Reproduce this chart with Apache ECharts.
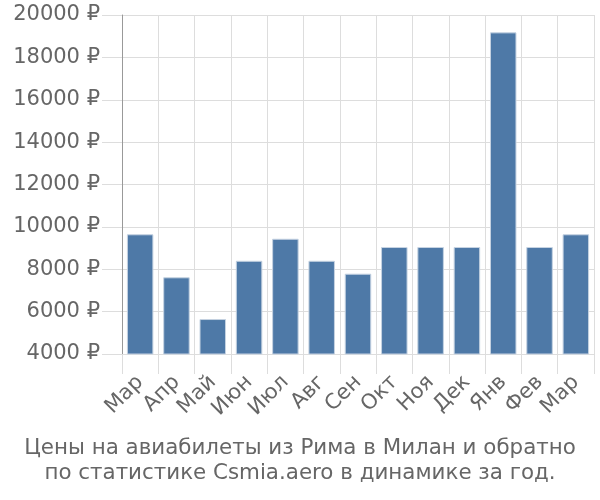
<!DOCTYPE html>
<html><head><meta charset="utf-8">
<script src="https://cdn.jsdelivr.net/npm/echarts@6/dist/echarts.min.js"></script>
<style>html,body{margin:0;padding:0;background:#fff}#c{width:600px;height:500px}</style>
</head><body><div id="c"></div>
<script>
const categories = ['Мар','Апр','Май','Июн','Июл','Авг','Сен','Окт','Ноя','Дек','Янв','Фев','Мар'];
const prices = [9650, 7620, 5650, 8400, 9440, 8400, 7790, 9050, 9050, 9050, 19180, 9050, 9650];
const yTicks = {min: 4000, max: 20000, interval: 2000};
const currency = '₽';
const titleLines = ['Цены на авиабилеты из Рима в Милан и обратно', 'по статистике Csmia.aero в динамике за год.'];

const chart = echarts.init(document.getElementById('c'), null, {renderer: 'canvas'});
const font = 'DejaVu Sans, Liberation Sans, sans-serif';
chart.setOption({
  animation: false,
  title: {
    text: titleLines.join('\n'),
    left: 'center', top: 431,
    textStyle: {fontFamily: font, fontSize: 21.4, fontWeight: 'normal', color: '#666', lineHeight: 25}
  },
  grid: {left: 122, right: 6, top: 15, bottom: 146, containLabel: false},
  xAxis: {
    type: 'category', data: categories,
    axisLine: {show: true, lineStyle: {color: '#ddd', width: 1}},
    axisTick: {show: true, length: 20, lineStyle: {color: '#ddd'}},
    splitLine: {show: true, lineStyle: {color: '#ddd', width: 1}},
    axisLabel: {rotate: 45, margin: 25, fontFamily: font, fontSize: 21, color: '#666', interval: 0}
  },
  yAxis: {
    type: 'value', min: yTicks.min, max: yTicks.max, interval: yTicks.interval,
    axisLine: {show: true, lineStyle: {color: '#999', width: 1}},
    axisTick: {show: true, length: 20, lineStyle: {color: '#ddd'}},
    splitLine: {show: true, lineStyle: {color: '#ddd', width: 1}},
    axisLabel: {margin: 22, fontFamily: font, fontSize: 21, color: '#666',
      formatter: function (v) { return v + ' ' + currency; }}
  },
  series: [{
    type: 'bar', data: prices, barWidth: '73%',
    itemStyle: {color: '#4e79a7', borderColor: '#c6d3e2', borderWidth: 1}
  }]
});
</script></body></html>
